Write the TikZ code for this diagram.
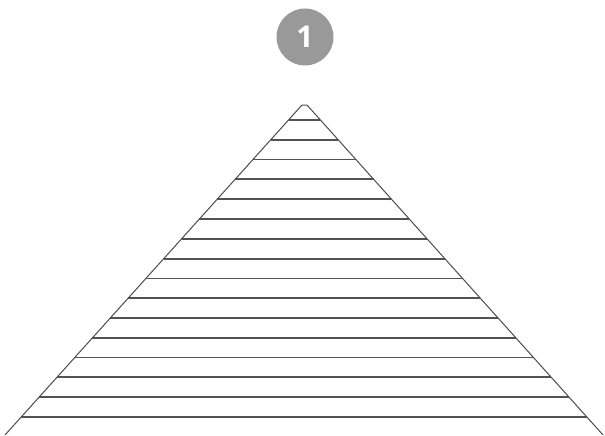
\documentclass[tikz,border=0pt]{standalone}
\usepackage{fontspec}
\setmainfont{Open Sans}
\usetikzlibrary{calc}
\begin{document}
\begin{tikzpicture}[x=1pt,y=-1pt,
  side/.style={draw=black!70,line width=1pt},
  rung/.style={draw=black!68,line width=1.8pt},
  badge/.style={circle,fill=black!40,minimum size=57pt,inner sep=0pt,text=white,font=\fontsize{30}{30}\selectfont\bfseries}]
\useasboundingbox (0,0) rectangle (605,436);
\node[badge] (b) at (305,37) {1};
\coordinate (tl) at (302,105);
\coordinate (tr) at (307,105);
\coordinate (bl) at (5,435);
\coordinate (br) at (603,435);
\foreach \i in {0,...,15}{
  \pgfmathsetmacro{\yy}{120+\i*19.8}
  \pgfmathsetmacro{\t}{(\yy-105)/330}
  \coordinate (l\i) at ($(tl)!\t!(bl)$);
  \coordinate (r\i) at ($(tr)!\t!(br)$);
  \draw[rung] (l\i) -- (r\i);
}
\draw[side] (bl) -- (tl) -- (tr) -- (br);
\end{tikzpicture}
\end{document}
